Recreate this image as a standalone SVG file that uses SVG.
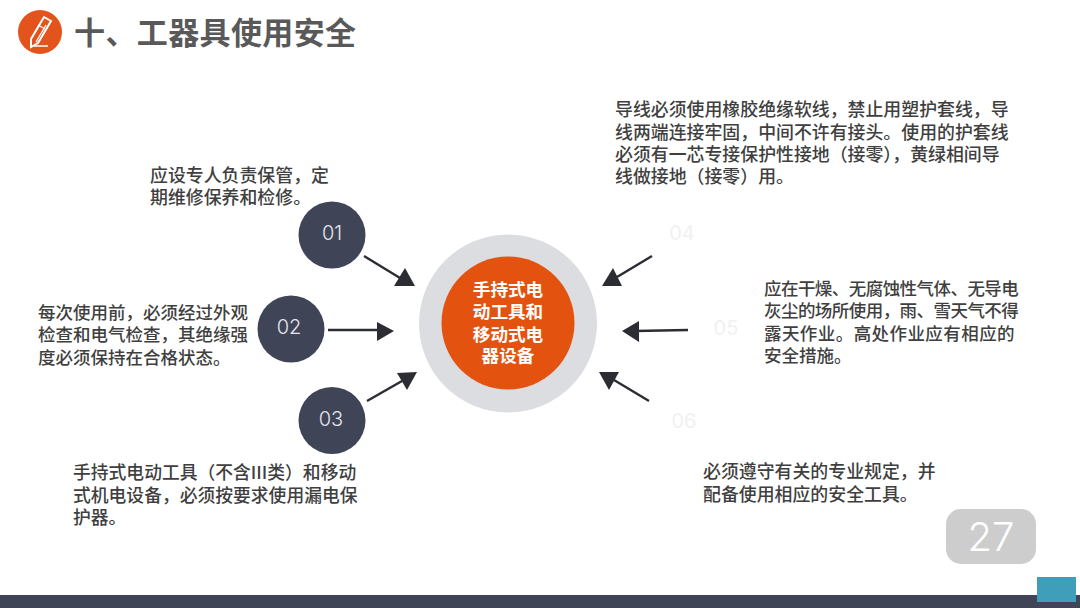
<svg xmlns="http://www.w3.org/2000/svg" width="1080" height="608" viewBox="0 0 1080 608">
<style>
text{font-family:"Noto Sans CJK SC","Liberation Sans",sans-serif}
.b{font-size:17.9px;fill:#3f3f3f;font-weight:500}
.s{font-size:17.5px}
.t{letter-spacing:-0.55px}
.w{letter-spacing:.43px}
.m{font-size:17.8px}
.c{font-size:17.6px;fill:#fff;font-weight:700;text-anchor:middle}
.n{font-size:20px;fill:#e4e6ec;text-anchor:middle;font-family:Inter,"Liberation Sans",sans-serif;font-weight:300}
.f{font-size:20px;fill:#f1f1f1;text-anchor:middle;font-family:Inter,"Liberation Sans",sans-serif}
.d{fill:#3f4456}
.l{stroke:#2b2d33;stroke-width:2.4;fill:none}
.h{fill:#2b2d33}
</style>
<rect width="1080" height="608" fill="#fff"/>
<g id="header">
<circle cx="40" cy="32" r="22" fill="#e2541c"/>
<path d="M44 17l7 4-13 22-7 4 0-8z" fill="none" stroke="#fff" stroke-width="2"/>
<path d="M38 25l7 4M41 22l-10 17M46 25l-10 17" stroke="#fff" stroke-width="1.3" fill="none"/>
<path d="M34 46h14" stroke="#fff" stroke-width="1.5"/>
<text x="74" y="44" font-size="31" font-weight="700" fill="#595959" textLength="282">十、工器具使用安全</text>
</g>
<g id="connectors">
<path class="l" d="M364 256L400 278"/><path class="h" d="M405 268L394 286H415z"/>
<path class="l" d="M328 330H380"/><path class="h" d="M377 322L394 331L377 341z"/>
<path class="l" d="M367 401L402 381"/><path class="h" d="M397 373L417 372L407 390z"/>
<path class="l" d="M652 256L617 277"/><path class="h" d="M613 268L602 286H622z"/>
<path class="l" d="M688 330L635 331"/><path class="h" d="M639 321L622 331L639 342z"/>
<path class="l" d="M649 401L614 380"/><path class="h" d="M599 372H619L609 390z"/>
</g>
<g id="center">
<circle cx="508" cy="323.5" r="89" fill="#dcdde0"/>
<circle cx="508" cy="323" r="66.5" fill="#e4520f"/>
<text class="c"><tspan x="508" y="296">手持式电</tspan><tspan x="508" y="318">动工具和</tspan><tspan x="508" y="341">移动式电</tspan><tspan x="508" y="362">器设备</tspan></text>
</g>
<g id="node-01"><circle class="d" cx="332" cy="235" r="33.5"/><text class="n" x="332" y="240">01</text>
<text class="b"><tspan x="150" y="182">应设专人负责保管，定</tspan><tspan x="150" y="204">期维修保养和检修。</tspan></text></g>
<g id="node-02"><circle class="d" cx="291" cy="329" r="33.5"/><text class="n" x="289" y="334">02</text>
<text class="b s"><tspan x="38" y="319">每次使用前，必须经过外观</tspan><tspan x="38" y="341">检查和电气检查，其绝缘强</tspan><tspan x="38" y="364">度必须保持在合格状态。</tspan></text></g>
<g id="node-03"><circle class="d" cx="332" cy="420.5" r="33.5"/><text class="n" x="331" y="426">03</text>
<text class="b m"><tspan x="73" y="479">手持式电动工具（不含III类）和移动</tspan><tspan x="73" y="502">式机电设备，必须按要求使用漏电保</tspan><tspan x="73" y="524">护器。</tspan></text></g>
<g id="node-04"><text class="f" x="682" y="240">04</text>
<text class="b"><tspan x="615" y="116">导线必须使用橡胶绝缘软线，禁止用塑护套线，导</tspan><tspan x="615" y="139">线两端连接牢固，中间不许有接头。使用的护套线</tspan><tspan x="615" y="161">必须有一芯专接保护性接地（接零），黄绿相间导</tspan><tspan x="615" y="183">线做接地（接零）用。</tspan></text></g>
<g id="node-05"><text class="f" x="726" y="335">05</text>
<text class="b s"><tspan class="t" x="764" y="295">应在干燥、无腐蚀性气体、无导电</tspan><tspan class="t" x="764" y="317">灰尘的场所使用，雨、雪天气不得</tspan><tspan class="w" x="764" y="340">露天作业。高处作业应有相应的</tspan><tspan x="764" y="362">安全措施。</tspan></text></g>
<g id="node-06"><text class="f" x="684" y="428">06</text>
<text class="b"><tspan x="703" y="478">必须遵守有关的专业规定，并</tspan><tspan x="703" y="501">配备使用相应的安全工具。</tspan></text></g>
<g id="footer">
<rect x="946" y="509" width="90" height="55" rx="15" fill="#cdcdcd"/>
<text x="991" y="551" font-size="40" fill="#fff" text-anchor="middle" style="font-family:Inter,'Liberation Sans',sans-serif;font-weight:300">27</text>
<rect x="0" y="595" width="1080" height="13" fill="#3f4456"/>
<rect x="1037" y="577" width="39" height="25" fill="#3f9fba"/>
</g>
</svg>
